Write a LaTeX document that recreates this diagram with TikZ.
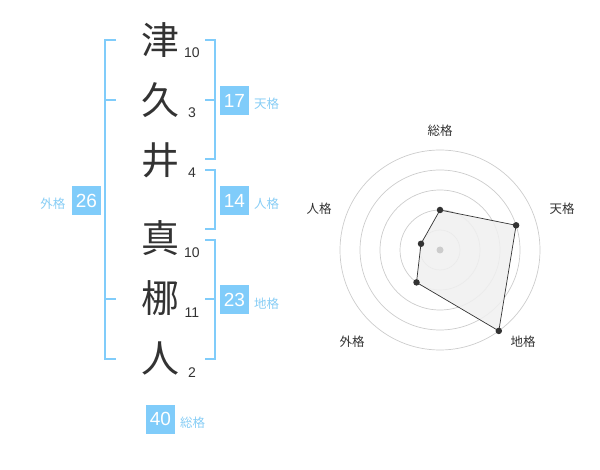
\documentclass[tikz,border=0pt]{standalone}
\usepackage{fontspec}
\setmainfont{Liberation Sans}
\newfontfamily\cjk{Noto Sans CJK JP}
\definecolor{kblue}{RGB}{128,204,250}
\definecolor{klabel}{RGB}{135,205,245}
\definecolor{ktext}{RGB}{51,51,51}
\definecolor{kring}{RGB}{204,204,204}
\definecolor{kfill}{RGB}{240,240,240}
\begin{document}
\begin{tikzpicture}[x=1pt,y=-1pt,
  kanji/.style={inner sep=0pt,text=ktext,font=\cjk\fontsize{38}{38}\selectfont},
  num/.style={inner sep=0pt,text=ktext,font=\fontsize{14}{14}\selectfont},
  valbox/.style={fill=kblue,minimum size=29pt,inner sep=0pt,text=white,font=\fontsize{19}{19}\selectfont},
  lab/.style={inner sep=0pt,text=klabel,font=\cjk\fontsize{12.5}{12.5}\selectfont},
  bracket/.style={draw=kblue,line width=2pt},
  ring/.style={draw=kring,line width=0.7pt},
  rlab/.style={inner sep=0pt,text=ktext,font=\cjk\fontsize{12.5}{12.5}\selectfont},
  dot/.style={circle,fill=ktext,inner sep=0pt,minimum size=6.5pt}
]
\useasboundingbox (0,0) rectangle (600,470);
% characters
\node[kanji] (c1) at (160,40) {津};
\node[kanji] (c2) at (160,100) {久};
\node[kanji] (c3) at (160,160) {井};
\node[kanji] (c4) at (160,238) {真};
\node[kanji] (c5) at (160,298) {梛};
\node[kanji] (c6) at (160,358) {人};
% stroke counts
\node[num] (n1) at (192,52.5) {10};
\node[num] (n2) at (192,112.5) {3};
\node[num] (n3) at (192,172.5) {4};
\node[num] (n4) at (192,252.5) {10};
\node[num] (n5) at (192,312.5) {11};
\node[num] (n6) at (192,372.5) {2};
% brackets
\draw[bracket] (116,40) -- (105,40) -- (105,359.5) -- (116,359.5);
\draw[bracket] (105,100) -- (116,100);
\draw[bracket] (105,299.5) -- (116,299.5);
\draw[bracket] (205,40) -- (214.5,40) -- (214.5,159.5) -- (205,159.5);
\draw[bracket] (205,100) -- (214.5,100);
\draw[bracket] (205,170) -- (214.5,170) -- (214.5,229.5) -- (205,229.5);
\draw[bracket] (205,240) -- (214.5,240) -- (214.5,359.5) -- (205,359.5);
\draw[bracket] (205,299.5) -- (214.5,299.5);
% value boxes
\node[valbox] (b17) at (234.5,100.5) {17};
\node[lab,anchor=west] (l17) at (254,104) {天格};
\node[valbox] (b14) at (234.5,200.5) {14};
\node[lab,anchor=west] (l14) at (254,204) {人格};
\node[valbox] (b23) at (234.5,300) {23};
\node[lab,anchor=west] (l23) at (254,304) {地格};
\node[valbox] (b26) at (86.5,200.5) {26};
\node[lab,anchor=east] (l26) at (65.5,203.5) {外格};
\node[valbox] (b40) at (160.5,419) {40};
\node[lab,anchor=west] (l40) at (180,422.5) {総格};
% radar
\coordinate (rc) at (440,250);
\foreach \r in {20,40,60,80,100} \draw[ring] (rc) circle[radius=\r pt];
\coordinate (p1) at (440,210);
\coordinate (p2) at (516.1,225.3);
\coordinate (p3) at (498.8,330.9);
\coordinate (p4) at (416.5,282.4);
\coordinate (p5) at (421.0,243.8);
\filldraw[fill=kfill,fill opacity=0.85,draw=ktext,line width=0.7pt] (p1) -- (p2) -- (p3) -- (p4) -- (p5) -- cycle;
\fill[kring] (rc) circle[radius=3.5pt];
\foreach \p in {p1,p2,p3,p4,p5} \node[dot] at (\p) {};
\node[rlab] (r1) at (440,131) {総格};
\node[rlab] (r2) at (562,209) {天格};
\node[rlab] (r3) at (523,342) {地格};
\node[rlab] (r4) at (352,342) {外格};
\node[rlab] (r5) at (319,209) {人格};
\end{tikzpicture}
\end{document}
